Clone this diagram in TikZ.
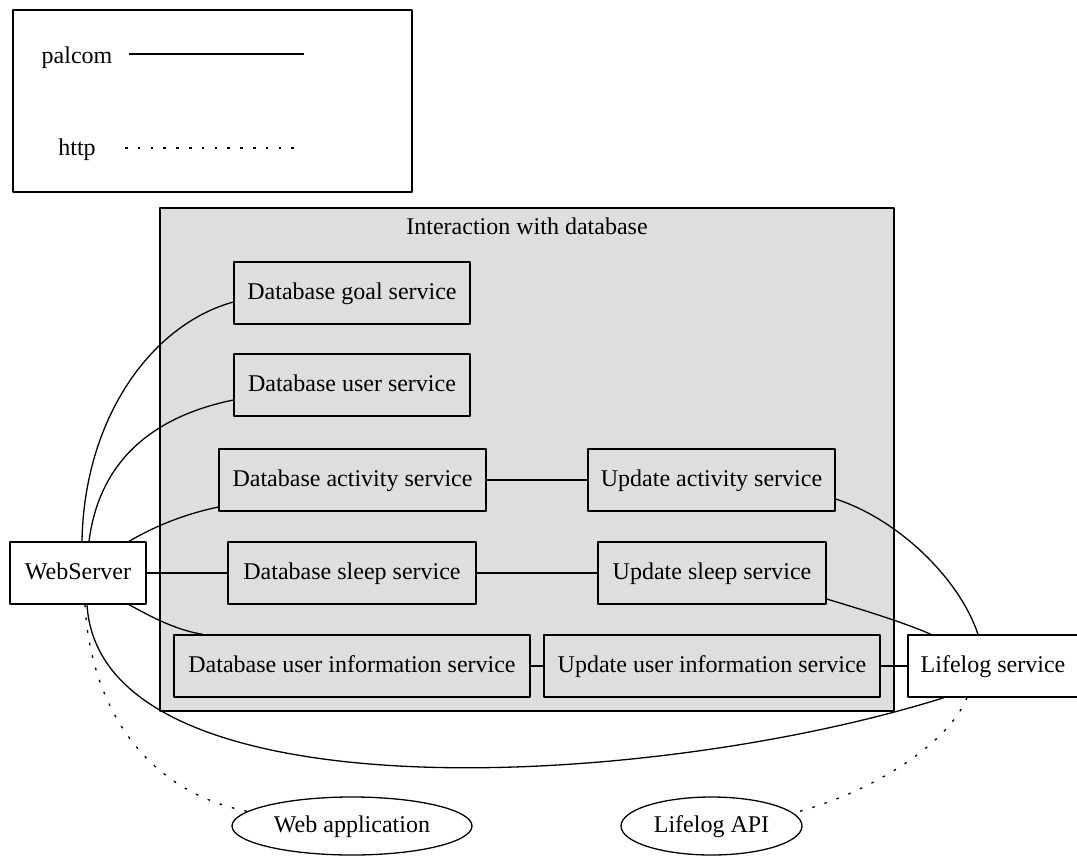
\documentclass[tikz,border=0pt]{standalone}
\usepackage{fontspec}
\setmainfont{Liberation Serif}
\usetikzlibrary{shapes.geometric}

\begin{document}
\begin{tikzpicture}[x=1pt, y=-1pt, line width=1.3pt, line join=round,
    font=\fontsize{24}{28}\selectfont,
    lbl/.style={inner sep=0pt, text height=17pt, text depth=4pt},
    svc/.style={lbl, draw, rectangle, minimum height=62pt},
    term/.style={lbl, draw, ellipse, fill=white, minimum height=58pt},
    httpline/.style={dash pattern=on 2.6pt off 10.2pt}]

  % 钉死画布（1077 x 855）
  \path[use as bounding box] (0,0) rectangle (1077,855);

  % ── 图例：palcom 实线 / http 点线 ──
  \draw (13,10) rectangle (412,192);
  \node[lbl] (palcom) at (77,56.5) {palcom};
  \node[lbl] (http) at (77,148.5) {http};
  \coordinate (pa) at (129,54);  \coordinate (pb) at (304,54);
  \coordinate (ha) at (125,148); \coordinate (hb) at (296,148);
  \draw (pa) -- (pb);
  \draw[httpline] (ha) -- (hb);

  % ── 灰色分组框 ──
  \draw[fill={rgb,255:red,222;green,222;blue,222}] (160,208) rectangle (894,711);
  \node[lbl] (cl) at (527,227.5) {Interaction with database};

  % ── 分组内的服务（名/x/y/宽/文字）──
  \foreach \n/\x/\y/\w/\t in {%
      goal/352/293/236/Database goal service,
      user/352/385/236/Database user service,
      dbact/352.5/480/267/Database activity service,
      upact/711.5/480/247/Update activity service,
      dbsleep/352/573/248/Database sleep service,
      upsleep/712/573/228/Update sleep service,
      dbinfo/352/666/356/Database user information service,
      upinfo/712/666/336/Update user information service}
    \node[svc, minimum width=\w pt] (\n) at (\x,\y) {\t};

  % ── 分组外的节点 ──
  \node[svc, fill=white, minimum width=136pt] (web) at (78,573) {WebServer};
  \node[svc, fill=white, minimum width=170pt] (life) at (993,666) {Lifelog service};
  \node[term, minimum width=240pt] (webapp) at (352,826) {Web application};
  \node[term, minimum width=181pt] (api) at (711.5,826) {Lifelog API};

  % ── WebServer 出发的 palcom 连线 ──
  \draw ([xshift=4pt]web.north) .. controls (84,420) and (150,325) .. ([yshift=-9pt]goal.west);
  \draw ([xshift=11pt]web.north) .. controls (100,455) and (160,415) .. ([yshift=-15pt]user.west);
  \draw ([xshift=51pt]web.north) .. controls (155,526) and (185,514) .. ([yshift=-27pt]dbact.west);
  \draw (web) -- (dbsleep);
  \draw ([xshift=51pt]web.south) .. controls (150,616) and (175,630) .. ([xshift=-149pt]dbinfo.north);
  \draw ([xshift=9pt]web.south) .. controls (100,820) and (650,790) .. ([xshift=-49pt]life.south);

  % ── 数据库服务 -- 更新服务 -- Lifelog ──
  \draw (dbact) -- (upact);
  \draw (dbsleep) -- (upsleep);
  \draw (dbinfo) -- (upinfo);
  \draw (upinfo) -- (life);
  \draw ([yshift=-19pt]upact.east) .. controls (900,520) and (960,580) .. ([xshift=-15pt]life.north);
  \draw ([yshift=-26pt]upsleep.east) .. controls (870,612) and (905,623) .. ([xshift=-62pt]life.north);

  % ── http 点线 ──
  \draw[httpline] ([xshift=7pt]web.south) .. controls (90,700) and (140,790) .. (webapp.172);
  \draw[httpline] ([xshift=-26pt]life.south) .. controls (950,740) and (880,790) .. (api.9);
\end{tikzpicture}
\end{document}
